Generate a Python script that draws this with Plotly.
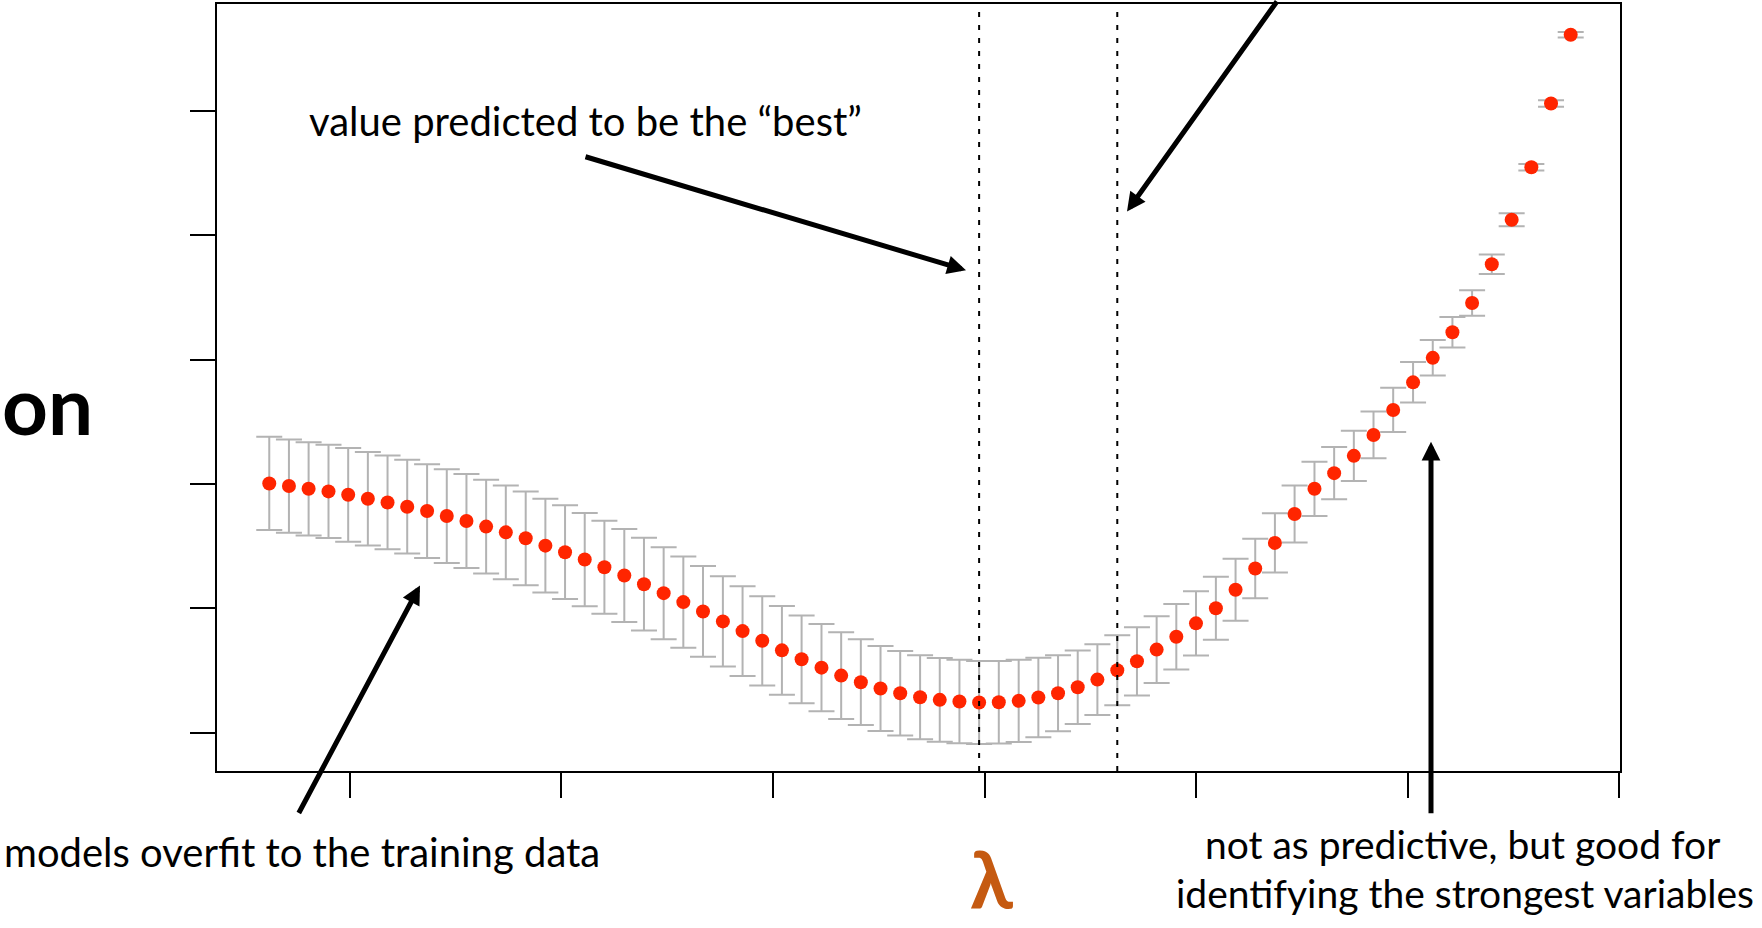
import plotly.graph_objects as go

# ---- data ----
log_lambda = [-6.381, -6.288, -6.195, -6.101, -6.008, -5.915, -5.822, -5.729, -5.635, -5.542,
              -5.449, -5.356, -5.263, -5.169, -5.076, -4.983, -4.890, -4.797, -4.703, -4.610,
              -4.517, -4.424, -4.331, -4.237, -4.144, -4.051, -3.958, -3.865, -3.771, -3.678,
              -3.585, -3.492, -3.399, -3.305, -3.212, -3.119, -3.026, -2.933, -2.839, -2.746,
              -2.653, -2.560, -2.467, -2.373, -2.280, -2.187, -2.094, -2.001, -1.907, -1.814,
              -1.721, -1.628, -1.535, -1.441, -1.348, -1.255, -1.162, -1.069, -0.975, -0.882,
              -0.789, -0.696, -0.603, -0.509, -0.416, -0.323, -0.230]

cv_error = [3.005, 2.984, 2.962, 2.941, 2.914, 2.882, 2.852, 2.818, 2.783, 2.743,
            2.703, 2.658, 2.612, 2.564, 2.505, 2.452, 2.393, 2.331, 2.265, 2.195,
            2.123, 2.051, 1.976, 1.896, 1.818, 1.740, 1.663, 1.591, 1.524, 1.460,
            1.407, 1.356, 1.318, 1.286, 1.265, 1.252, 1.244, 1.246, 1.257, 1.284,
            1.318, 1.366, 1.428, 1.503, 1.575, 1.669, 1.773, 1.880, 2.002, 2.150,
            2.321, 2.527, 2.759, 2.962, 3.088, 3.227, 3.395, 3.596, 3.818, 4.015,
            4.221, 4.456, 4.767, 5.125, 5.547, 6.060, 6.613]

cv_se = [0.375, 0.375, 0.375, 0.375, 0.377, 0.375, 0.377, 0.377, 0.377, 0.377,
         0.377, 0.377, 0.377, 0.377, 0.377, 0.377, 0.375, 0.374, 0.373, 0.373,
         0.370, 0.367, 0.365, 0.363, 0.361, 0.359, 0.357, 0.353, 0.350, 0.349,
         0.345, 0.342, 0.339, 0.338, 0.337, 0.335, 0.333, 0.331, 0.330, 0.319,
         0.306, 0.295, 0.285, 0.281, 0.274, 0.269, 0.263, 0.259, 0.253, 0.249,
         0.239, 0.238, 0.229, 0.218, 0.211, 0.202, 0.188, 0.178, 0.163, 0.143,
         0.123, 0.102, 0.078, 0.052, 0.026, 0.026, 0.022]

x_ticks = [-6, -5, -4, -3, -2, -1, 0]
y_ticks = [1, 2, 3, 4, 5, 6]

idx_min = 36      # lambda.min
idx_1se = 43      # lambda.1se

best_label = "value predicted to be the \u201cbest\u201d"
overfit_label = "models overfit to the training data"
sparse_label_1 = "not as predictive, but good for"
sparse_label_2 = "identifying the strongest variables"
x_label = "\u03bb"
side_label = "on"

# ---- layout geometry ----
W, H = 1762, 928
L, R, T, B = 217, 142, 2, 157
PW, PH = W - L - R, H - T - B


def px(xp):
    return (xp - L) / PW


def py(yp):
    return (H - B - yp) / PH


fig = go.Figure()
fig.add_trace(go.Scatter(
    x=log_lambda, y=cv_error, mode="markers",
    marker=dict(color="#FF2500", size=14),
    error_y=dict(type="data", array=cv_se, color="#B3B3B3", thickness=2, width=13),
    showlegend=False, hoverinfo="skip",
))

for i in (idx_min, idx_1se):
    fig.add_shape(type="line", xref="x", yref="paper",
                  x0=log_lambda[i], x1=log_lambda[i], y0=0, y1=1,
                  line=dict(color="black", width=2, dash="5px,8px"))

FONT = "Lato"
ann = []


def text(t, x, y, size, xanchor="center", yanchor="middle", bold=False, color="black"):
    ann.append(dict(text=f"<b>{t}</b>" if bold else t, xref="paper", yref="paper",
                    x=px(x), y=py(y), xanchor=xanchor, yanchor=yanchor,
                    showarrow=False, font=dict(family=FONT, size=size, color=color)))


def arrow(tail, head):
    ann.append(dict(text="", xref="paper", yref="paper", x=px(head[0]), y=py(head[1]),
                    ax=tail[0] - head[0], ay=tail[1] - head[1], axref="pixel", ayref="pixel",
                    showarrow=True, arrowhead=2, arrowsize=0.75, arrowwidth=5,
                    arrowcolor="black", standoff=0))


text(best_label, 585, 119, 40)
text(overfit_label, 2, 852, 40, xanchor="left")
text(sparse_label_1, 1462, 844, 39)
text(sparse_label_2, 1465, 893, 39)
text(x_label, 991, 927, 78, yanchor="bottom", bold=True, color="#C55A11")
text(side_label, 0, 403, 80, xanchor="left", bold=True)

arrow((584, 155), (966, 269))
arrow((1278, -10), (1127, 210))
arrow((298, 814), (420, 585))
arrow((1431, 814), (1431, 441))

fig.update_layout(
    width=W, height=H,
    margin=dict(l=L, r=R, t=T, b=B, pad=0),
    paper_bgcolor="white", plot_bgcolor="white",
    annotations=ann,
    xaxis=dict(range=[-6.628, 0.003], tickvals=x_ticks, showticklabels=False,
               ticks="outside", ticklen=25, tickwidth=2, tickcolor="black",
               showline=True, linecolor="black", linewidth=2, mirror=True,
               showgrid=False, zeroline=False),
    yaxis=dict(range=[0.693, 6.860], tickvals=y_ticks, showticklabels=False,
               ticks="outside", ticklen=25, tickwidth=2, tickcolor="black",
               showline=True, linecolor="black", linewidth=2, mirror=True,
               showgrid=False, zeroline=False),
)

fig.write_html("out.html", config={"displayModeBar": False},
               post_script="document.body.style.margin='0px';")
